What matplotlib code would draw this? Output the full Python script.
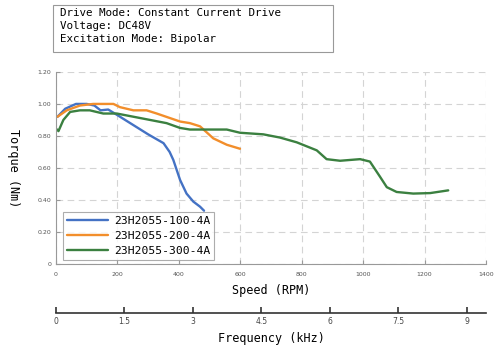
import matplotlib
matplotlib.use('Agg')
import matplotlib.pyplot as plt
from matplotlib.patches import Rectangle

# speed (RPM) / torque (Nm)
spd_100 = [5, 30, 65, 100, 125, 145, 170, 200, 250, 300, 350, 370, 382, 404, 425, 447, 469, 482]
trq_100 = [0.92, 0.97, 1.00, 1.00, 0.99, 0.96, 0.965, 0.93, 0.87, 0.81, 0.755, 0.70, 0.65, 0.525, 0.44, 0.39, 0.358, 0.333]

spd_200 = [5, 35, 78, 121, 165, 187, 208, 252, 295, 328, 404, 436, 469, 512, 556, 599]
trq_200 = [0.92, 0.96, 0.99, 1.00, 1.00, 1.00, 0.98, 0.96, 0.96, 0.94, 0.89, 0.88, 0.86, 0.785, 0.745, 0.72]

spd_300 = [4, 8, 24, 46, 78, 110, 132, 154, 198, 252, 306, 360, 404, 436, 556, 599, 675, 729, 784, 849,
           881, 925, 990, 1022, 1055, 1077, 1109, 1163, 1218, 1277]
trq_300 = [0.84, 0.83, 0.90, 0.95, 0.96, 0.96, 0.95, 0.94, 0.94, 0.92, 0.90, 0.88, 0.85, 0.84, 0.84, 0.82, 0.81, 0.79, 0.76, 0.71,
           0.655, 0.645, 0.655, 0.64, 0.545, 0.48, 0.45, 0.44, 0.443, 0.46]

labels = ['23H2055-100-4A', '23H2055-200-4A', '23H2055-300-4A']
colors = ['#4472c4', '#f28e2b', '#3b8040']

x_ticks = [0, 200, 400, 600, 800, 1000, 1200, 1400]
y_ticks = [0, 0.2, 0.4, 0.6, 0.8, 1.0, 1.2]
y_ticklabels = ['0', '0.20', '0.40', '0.60', '0.80', '1.00', '1.20']
f_ticks = [0, 1.5, 3, 4.5, 6, 7.5, 9]
f_ticklabels = ['0', '1.5', '3', '4.5', '6', '7.5', '9']

mono = 'DejaVu Sans Mono'

fig = plt.figure(figsize=(5, 3.56), dpi=100)
ax = fig.add_axes([0.112, 0.2584, 0.86, 0.5396])

for xs, ys, lab, c in zip([spd_100, spd_200, spd_300], [trq_100, trq_200, trq_300], labels, colors):
    ax.plot(xs, ys, color=c, lw=1.7, label=lab, solid_capstyle='round')

ax.set_xlim(0, 1400)
ax.set_ylim(0, 1.2)
ax.set_xticks(x_ticks)
ax.set_yticks(y_ticks)
ax.set_yticklabels(y_ticklabels)
ax.tick_params(labelsize=4.5, labelcolor='#555555', color='#999999', length=3, direction='in')
ax.tick_params(axis='x', pad=6)
ax.grid(True, ls=(0, (6, 4)), color='#d4d4d4', lw=0.8)
for s in ['top', 'right']:
    ax.spines[s].set_visible(False)
for s in ['left', 'bottom']:
    ax.spines[s].set_color('#999999')

ax.set_xlabel('Speed (RPM)', family=mono, fontsize=8.5, labelpad=5)
ax.set_ylabel('Torque (Nm)', family=mono, fontsize=8.5, rotation=270, va='center')
ax.yaxis.set_label_coords(-0.1, 0.5)

leg = ax.legend(loc='lower left', bbox_to_anchor=(0.012, 0.01), prop={'family': mono, 'size': 8.2},
                frameon=True, fancybox=False, edgecolor='#999999', handlelength=3.6,
                borderpad=0.35, labelspacing=0.45, handletextpad=0.5, borderaxespad=0.2)
leg.get_frame().set_linewidth(0.8)

# frequency axis underneath
ax2 = fig.add_axes([0.112, 0.1208, 0.86, 0.0001])
ax2.set_xlim(0, 9.42)
ax2.set_xticks(f_ticks)
ax2.set_xticklabels(f_ticklabels)
ax2.set_yticks([])
for s in ['top', 'right', 'left']:
    ax2.spines[s].set_visible(False)
ax2.spines['bottom'].set_linewidth(1.2)
ax2.spines['bottom'].set_color('#333333')
ax2.tick_params(axis='x', direction='in', length=4, width=1.2, color='#333333', labelsize=5.5,
                labelcolor='#444444', pad=3)
ax2.set_xlabel('Frequency (kHz)', family=mono, fontsize=8.5, labelpad=4)

# info box
fig.patches.append(Rectangle((0.106, 0.854), 0.56, 0.132, transform=fig.transFigure,
                             fc='white', ec='#999999', lw=0.8))
fig.text(0.12, 0.977, 'Drive Mode: Constant Current Drive\nVoltage: DC48V\nExcitation Mode: Bipolar',
         family=mono, fontsize=7.8, va='top', ha='left', linespacing=1.38)

fig.savefig('out.png', dpi=100)
